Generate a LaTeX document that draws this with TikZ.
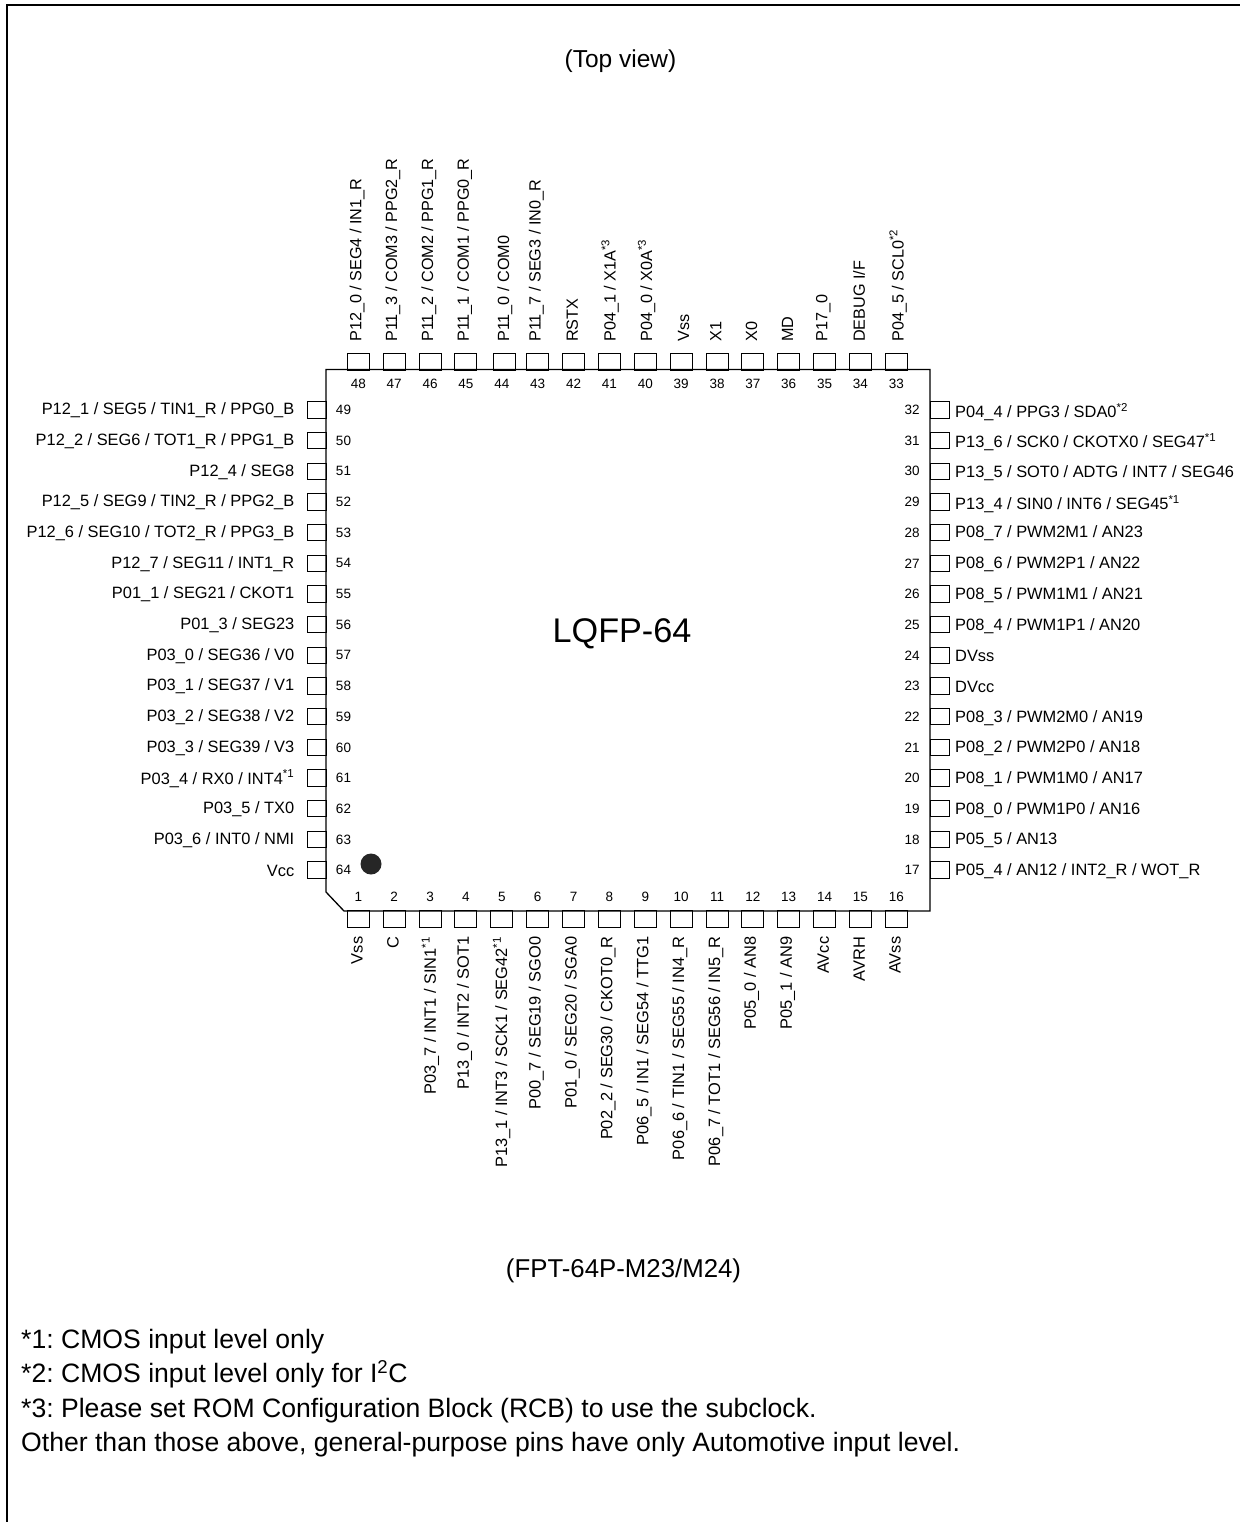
\documentclass[tikz,border=0pt]{standalone}
\usepackage{fontspec}
\setmainfont{Liberation Sans}
\frenchspacing
\newcommand{\sr}[1]{\textsuperscript{#1}}
\newcommand{\pinT}[3]{%
  \pgfmathsetmacro{\px}{358.3+35.87*(48-#1)}
  \pgfmathsetmacro{\bo}{#1==44?3:0}
  \node[pinbox] (b#1) at (\px+\bo,362) {};
  \node[pinnum] (n#1) at (\px,384) {#1};
  \node[pinlab,font=\fontsize{16.2}{18}\selectfont,rotate=90,anchor=west] (t#1) at (\px+#3,342) {#2};}
\newcommand{\pinB}[3]{%
  \pgfmathsetmacro{\px}{358.3+35.87*(#1-1)}
  \node[pinbox] (b#1) at (\px,919) {};
  \node[pinnum] (n#1) at (\px,897) {#1};
  \node[pinlab,rotate=90,anchor=east] (t#1) at (\px+#3,936.5) {#2};}
\newcommand{\pinL}[3]{%
  \pgfmathsetmacro{\py}{410+30.67*(#1-49)}
  \node[pinbox,minimum width=19pt] (b#1) at (316.5,\py) {};
  \node[pinnum] (n#1) at (343.5,\py) {#1};
  \node[pinlab,anchor=east] (t#1) at (294.5,\py+#3) {#2};}
\newcommand{\pinR}[3]{%
  \pgfmathsetmacro{\py}{410+30.67*(32-#1)}
  \node[pinbox,minimum width=19pt] (b#1) at (939.5,\py) {};
  \node[pinnum] (n#1) at (912,\py) {#1};
  \node[pinlab,anchor=west] (t#1) at (955,\py+#3) {#2};}
\begin{document}
\begin{tikzpicture}[x=1pt,y=-1pt,
  pinbox/.style={draw,line width=1pt,minimum width=22pt,minimum height=16.5pt,inner sep=0pt,outer sep=0pt},
  pinnum/.style={font=\fontsize{13.5}{16}\selectfont,inner sep=0pt},
  pinlab/.style={font=\fontsize{16.4}{18}\selectfont,inner sep=0pt},
  note/.style={font=\fontsize{26.6}{30}\selectfont,inner sep=0pt,anchor=base west},
  title/.style={font=\fontsize{25.8}{30}\selectfont,inner sep=0pt}]
\useasboundingbox (0,0) rectangle (1240,1522);
\coordinate (fa) at (6.8,1522);
\coordinate (fb) at (6.8,5);
\coordinate (fc) at (1240,5);
\draw[line width=2pt] (fa) -- (fb) -- (fc);
\draw[line width=1.3pt] (326,369.5) -- (930,369.5) -- (930,911) -- (344,911) -- (326,892) -- cycle;

\pinT{48}{P12\_0 / SEG4 / IN1\_R}{-1.3}
\pinT{47}{P11\_3 / COM3 / PPG2\_R}{-1.3}
\pinT{46}{P11\_2 / COM2 / PPG1\_R}{-1.3}
\pinT{45}{P11\_1 / COM1 / PPG0\_R}{-1.3}
\pinT{44}{P11\_0 / COM0}{3}
\pinT{43}{P11\_7 / SEG3 / IN0\_R}{-1.3}
\pinT{42}{RSTX}{-1.3}
\pinT{41}{P04\_1 / X1A\sr{*3}}{0.7}
\pinT{40}{P04\_0 / X0A\sr{*3}}{1.3}
\pinT{39}{Vss}{2.4}
\pinT{38}{X1}{-1.3}
\pinT{37}{X0}{-1.3}
\pinT{36}{MD}{-1.3}
\pinT{35}{P17\_0}{-1.3}
\pinT{34}{DEBUG I/F}{-1.3}
\pinT{33}{P04\_5 / SCL0\sr{*2}}{1.7}

\pinB{1}{Vss}{-1.3}
\pinB{2}{C}{-1.3}
\pinB{3}{P03\_7 / INT1 / SIN1\sr{*1}}{0.3}
\pinB{4}{P13\_0 / INT2 / SOT1}{-1.3}
\pinB{5}{P13\_1 / INT3 / SCK1 / SEG42\sr{*1}}{0}
\pinB{6}{P00\_7 / SEG19 / SGO0}{-1.3}
\pinB{7}{P01\_0 / SEG20 / SGA0}{-1.3}
\pinB{8}{P02\_2 / SEG30 / CKOT0\_R}{-1.3}
\pinB{9}{P06\_5 / IN1 / SEG54 / TTG1}{-1.3}
\pinB{10}{P06\_6 / TIN1 / SEG55 / IN4\_R}{-1.3}
\pinB{11}{P06\_7 / TOT1 / SEG56 / IN5\_R}{-1.3}
\pinB{12}{P05\_0 / AN8}{-1.3}
\pinB{13}{P05\_1 / AN9}{-1.3}
\pinB{14}{AVcc}{-1.3}
\pinB{15}{AVRH}{-1.3}
\pinB{16}{AVss}{-1.3}

\pinL{49}{P12\_1 / SEG5 / TIN1\_R / PPG0\_B}{0.5}
\pinL{50}{P12\_2 / SEG6 / TOT1\_R / PPG1\_B}{0.5}
\pinL{51}{P12\_4 / SEG8}{0.5}
\pinL{52}{P12\_5 / SEG9 / TIN2\_R / PPG2\_B}{0.5}
\pinL{53}{P12\_6 / SEG10 / TOT2\_R / PPG3\_B}{0.5}
\pinL{54}{P12\_7 / SEG11 / INT1\_R}{0.5}
\pinL{55}{P01\_1 / SEG21 / CKOT1}{0.5}
\pinL{56}{P01\_3 / SEG23}{0.5}
\pinL{57}{P03\_0 / SEG36 / V0}{0.5}
\pinL{58}{P03\_1 / SEG37 / V1}{0.5}
\pinL{59}{P03\_2 / SEG38 / V2}{0.5}
\pinL{60}{P03\_3 / SEG39 / V3}{0.5}
\pinL{61}{P03\_4 / RX0 / INT4\sr{*1}}{0.5}
\pinL{62}{P03\_5 / TX0}{0.5}
\pinL{63}{P03\_6 / INT0 / NMI}{0.5}
\pinL{64}{Vcc}{0.5}

\pinR{32}{P04\_4 / PPG3 / SDA0\sr{*2}}{2}
\pinR{31}{P13\_6 / SCK0 / CKOTX0 / SEG47\sr{*1}}{1.5}
\pinR{30}{P13\_5 / SOT0 / ADTG / INT7 / SEG46}{1.5}
\pinR{29}{P13\_4 / SIN0 / INT6 / SEG45\sr{*1}}{2.5}
\pinR{28}{P08\_7 / PWM2M1 / AN23}{1}
\pinR{27}{P08\_6 / PWM2P1 / AN22}{1}
\pinR{26}{P08\_5 / PWM1M1 / AN21}{1}
\pinR{25}{P08\_4 / PWM1P1 / AN20}{1}
\pinR{24}{DVss}{1}
\pinR{23}{DVcc}{1}
\pinR{22}{P08\_3 / PWM2M0 / AN19}{1}
\pinR{21}{P08\_2 / PWM2P0 / AN18}{1}
\pinR{20}{P08\_1 / PWM1M0 / AN17}{1}
\pinR{19}{P08\_0 / PWM1P0 / AN16}{1}
\pinR{18}{P05\_5 / AN13}{1}
\pinR{17}{P05\_4 / AN12 / INT2\_R / WOT\_R}{1}

\node[circle,fill=black!85,minimum size=21pt,inner sep=0pt] (dot) at (371,864) {};
\node[font=\fontsize{34.2}{38}\selectfont,inner sep=0pt] (chip) at (622,634) {LQFP-64};
\node[title,font=\fontsize{24.5}{30}\selectfont] (topview) at (620.5,61) {(Top view)};
\node[title] (pkg) at (623.5,1271) {(FPT-64P-M23/M24)};
\node[note] (n1) at (21,1348) {*1: CMOS input level only};
\node[note] (n2) at (21,1382.5) {*2: CMOS input level only for I\textsuperscript{2}C};
\node[note] (n3) at (21,1417) {*3: Please set ROM Configuration Block (RCB) to use the subclock.};
\node[note] (n4) at (21,1451.5) {Other than those above, general-purpose pins have only Automotive input level.};
\end{tikzpicture}
\end{document}
